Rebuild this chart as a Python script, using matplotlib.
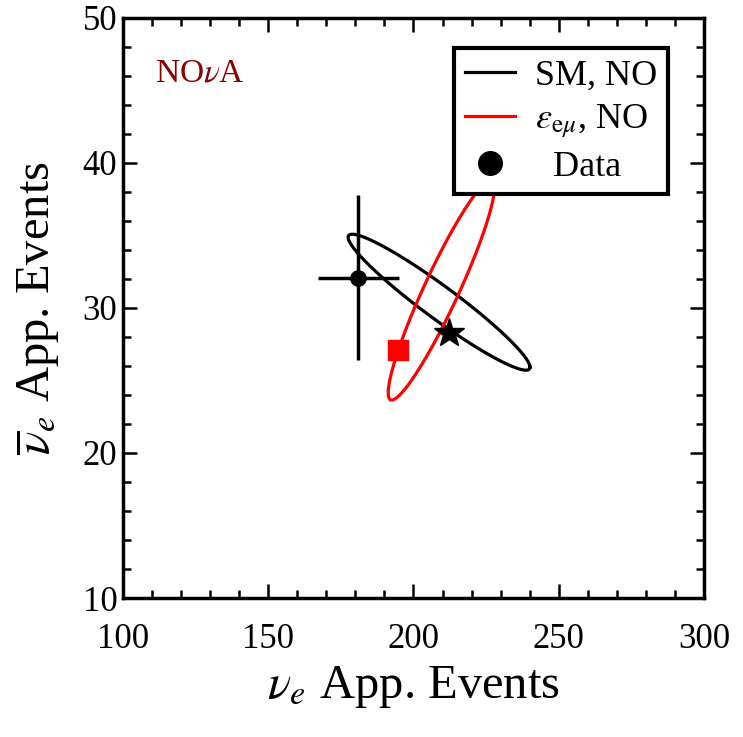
import numpy as np
import matplotlib
matplotlib.use("Agg")
import matplotlib.pyplot as plt

plt.rcParams['font.family'] = ['Liberation Serif', 'DejaVu Serif']
plt.rcParams['mathtext.fontset'] = 'stix'

# measured point (nu_e, nubar_e) with errors
data_x = 181.0
data_y = 32.1
data_xerr = 14.0
data_yerr = 5.7

# best fit points
sm_best = (212.2, 28.3)
nsi_best = (194.7, 27.1)

# contours: centre, half extents and phase (x = cx + sx cos t, y = cy + sy cos(t + phi))
sm_ell = dict(cx=208.8, cy=30.4, sx=31.3, sy=4.69, phi=162.7)
nsi_ell = dict(cx=209.6, cy=31.24, sx=18.3, sy=7.59, phi=21.0)

xlim = (100, 300)
ylim = (10, 50)
xticks = [100, 150, 200, 250, 300]
yticks = [10, 20, 30, 40, 50]


def ellipse(e, n=400):
    t = np.linspace(0, 2 * np.pi, n)
    ph = np.deg2rad(e['phi'])
    return e['cx'] + e['sx'] * np.cos(t), e['cy'] + e['sy'] * np.cos(t + ph)


fig = plt.figure(figsize=(7.43, 7.37), dpi=100)
ax = fig.add_axes([0.1655, 0.1886, 0.782, 0.787])

x1, y1 = ellipse(sm_ell)
x2, y2 = ellipse(nsi_ell)
ax.plot(x1, y1, color='black', lw=2.3, label='SM, NO', zorder=3)
ax.plot(x2, y2, color='red', lw=2.3, label=r'$\varepsilon_{\mathrm{e}\mu}$, NO', zorder=3)

ax.errorbar(data_x, data_y, xerr=data_xerr, yerr=data_yerr, fmt='o', color='black',
            ms=11, elinewidth=2.5, capsize=0, zorder=4)
ax.plot([], [], 'o', color='black', ms=17, label='  Data')  # legend entry only
ax.plot(*sm_best, marker='*', color='black', ms=22, ls='none', zorder=5)
ax.plot(*nsi_best, marker='s', color='red', ms=14, ls='none', zorder=5)

ax.set_xlim(*xlim)
ax.set_ylim(*ylim)
ax.set_xticks(xticks)
ax.set_yticks(yticks)
ax.set_xticks(np.arange(100, 301, 10), minor=True)
ax.set_yticks(np.arange(10, 51, 2), minor=True)
ax.tick_params(which='both', direction='in', top=True, right=True, width=1.8, labelsize=25)
ax.tick_params(axis='x', pad=18)
ax.tick_params(axis='y', pad=4)
ax.tick_params(which='major', length=10)
ax.tick_params(which='minor', length=6)
for s in ax.spines.values():
    s.set_linewidth(2.5)

ax.set_xlabel(r'$\nu_e$ App. Events', fontsize=35)
ax.set_ylabel(r'$\overline{\nu}_e$ App. Events', fontsize=35)
ax.xaxis.set_label_coords(0.5, -0.114)
ax.yaxis.set_label_coords(-0.105, 0.5)

ax.text(0.055, 0.89, r'NO$\nu$A', transform=ax.transAxes, color='#8b0000', fontsize=24)

leg = ax.legend(loc='upper right', bbox_to_anchor=(0.938, 0.948), fontsize=26,
                frameon=True, fancybox=False, handlelength=1.38, handletextpad=0.55,
                labelspacing=0.28, borderpad=0.3, borderaxespad=0)
leg.get_frame().set_edgecolor('black')
leg.get_frame().set_linewidth(3)
leg.get_frame().set_alpha(1)
leg.set_zorder(10)

fig.savefig('out.png', dpi=100)
